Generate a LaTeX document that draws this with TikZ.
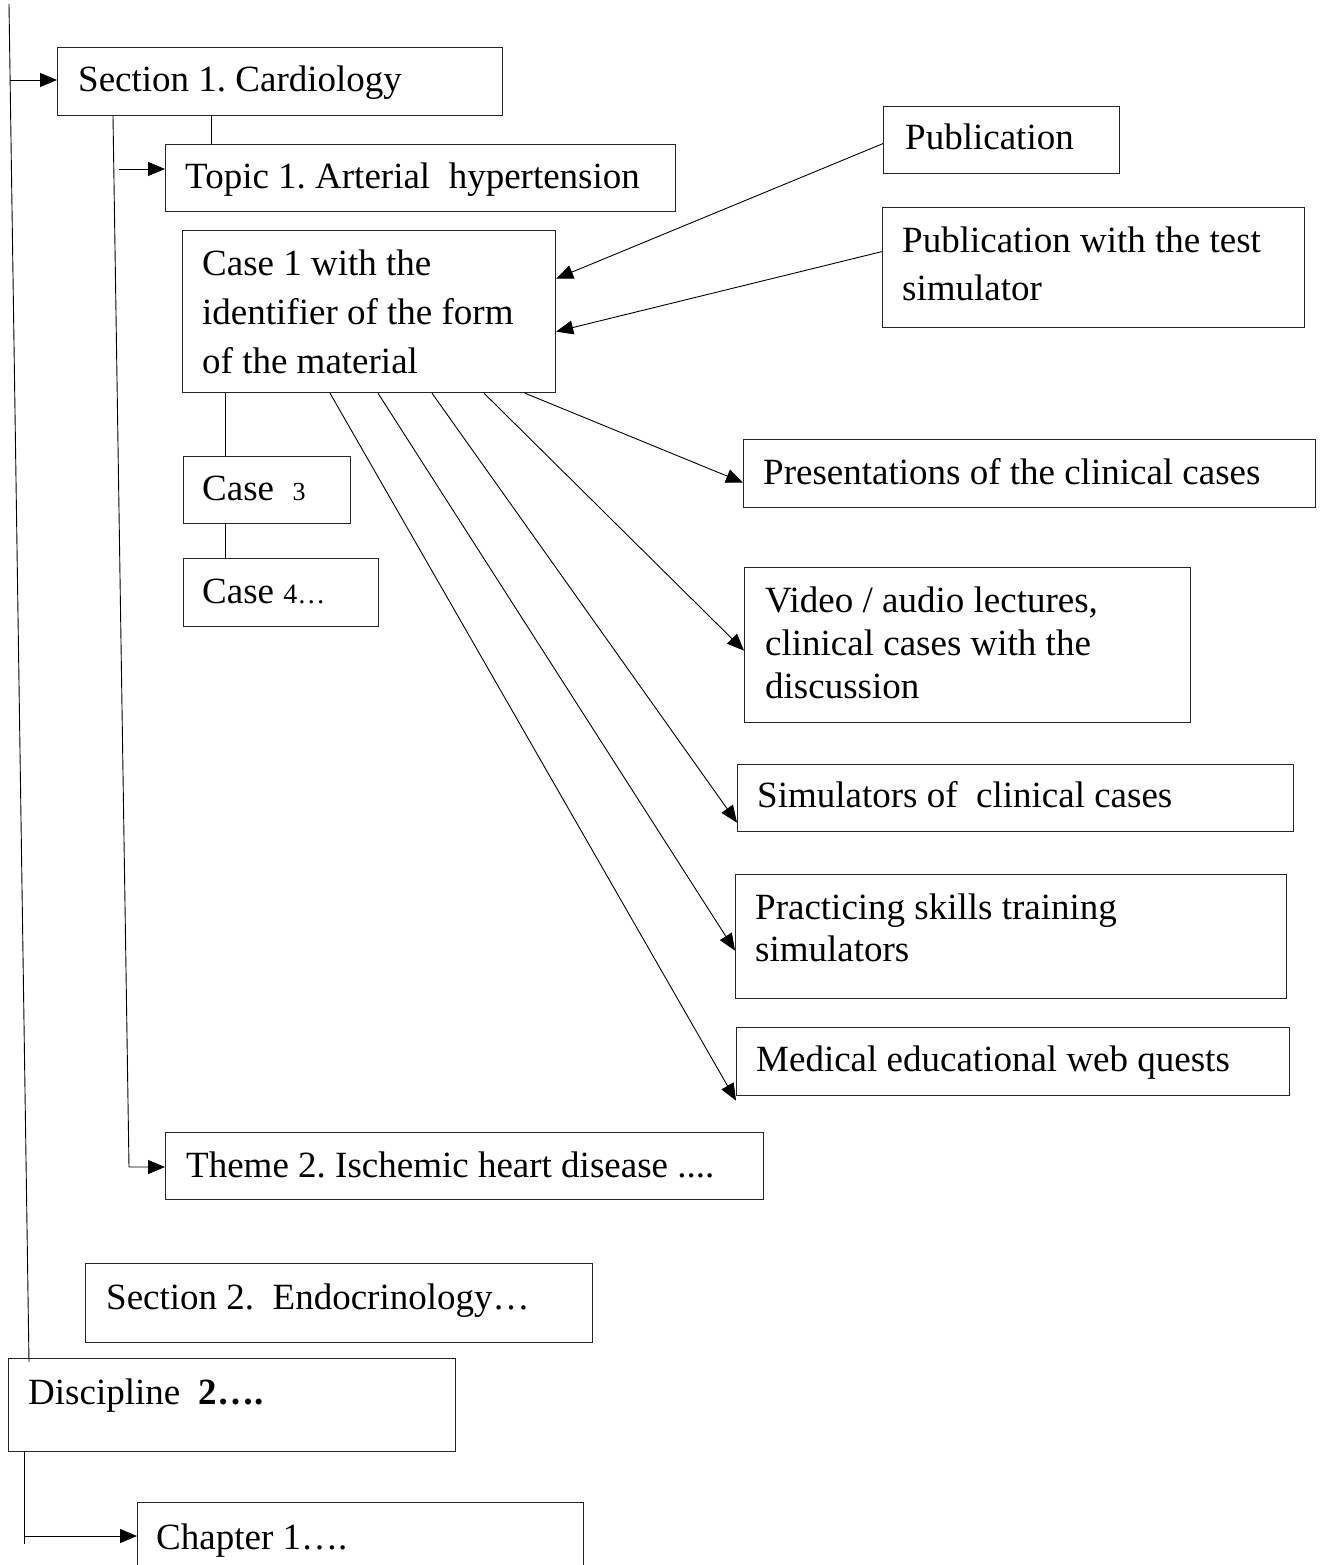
\documentclass[tikz,border=0pt]{standalone}
\usepackage{fontspec}
\setmainfont{Liberation Serif}
\usetikzlibrary{arrows.meta}
\begin{document}
\frenchspacing
\begin{tikzpicture}[x=1pt,y=-1pt,
  box/.style={draw=black!85, line width=1.2pt, rectangle, anchor=north west, inner sep=0pt},
  txt/.style={anchor=base west, inner sep=0pt, font=\fontsize{37}{44}\selectfont},
  conn/.style={line width=0.9pt},
  arr/.style={line width=0.9pt, -{Triangle[length=17pt,width=14pt]}}]
\useasboundingbox[fill=white] (0,0) rectangle (1321,1565);

% boxes
\node[box, minimum width=445pt, minimum height=68pt] (s1) at (57,47) {};
\node[box, minimum width=510pt, minimum height=67pt] (t1) at (165,144) {};
\node[box, minimum width=373pt, minimum height=162pt] (c1) at (182,230) {};
\node[box, minimum width=167pt, minimum height=67pt] (c3) at (183,456) {};
\node[box, minimum width=195pt, minimum height=68pt] (c4) at (183,558) {};
\node[box, minimum width=236pt, minimum height=67pt] (pub) at (883,106) {};
\node[box, minimum width=422pt, minimum height=120pt] (pubt) at (882,207) {};
\node[box, minimum width=572pt, minimum height=68pt] (pres) at (743,439) {};
\node[box, minimum width=446pt, minimum height=155pt] (vid) at (744,567) {};
\node[box, minimum width=556pt, minimum height=67pt] (sim) at (737,764) {};
\node[box, minimum width=551pt, minimum height=124pt] (prac) at (735,874) {};
\node[box, minimum width=553pt, minimum height=68pt] (med) at (736,1027) {};
\node[box, minimum width=598pt, minimum height=67pt] (th2) at (165,1132) {};
\node[box, minimum width=507pt, minimum height=79pt] (s2) at (85,1263) {};
\node[box, minimum width=447pt, minimum height=93pt] (disc) at (8,1358) {};
\node[box, minimum width=446pt, minimum height=120pt] (ch) at (137,1502) {};

% texts
\node[txt] (s1t) at (78,92) {Section 1. Cardiology};
\node[txt] (t1t) at (185,189) {Topic 1. Arterial~ hypertension};
\node[txt] (c1a) at (202,275) {Case 1 with the};
\node[txt] (c1b) at (202,324) {identifier of the form};
\node[txt] (c1c) at (202,373) {of the material};
\node[txt] (c3t) at (202,500) {Case~ {\fontsize{26}{30}\selectfont 3}};
\node[txt] (c4t) at (202,603) {Case {\fontsize{28}{32}\selectfont 4…}};
\node[txt] (pubx) at (905,150) {Publication};
\node[txt] (pta) at (902,252) {Publication with the test};
\node[txt] (ptb) at (902,300) {simulator};
\node[txt] (prest) at (763,484) {Presentations of the clinical cases};
\node[txt] (va) at (765,612) {Video / audio lectures,};
\node[txt] (vb) at (765,655) {clinical cases with the};
\node[txt] (vc) at (765,698) {discussion};
\node[txt] (simt) at (757,807) {Simulators of~ clinical cases};
\node[txt] (pa) at (755,919) {Practicing skills training};
\node[txt] (pb) at (755,961) {simulators};
\node[txt] (medt) at (756,1071) {Medical educational web quests};
\node[txt] (th2t) at (186,1177) {Theme 2. Ischemic heart disease ....};
\node[txt] (s2t) at (106,1309) {Section 2.~ Endocrinology…};
\node[txt] (disct) at (28,1404) {Discipline~ \textbf{2….}};
\node[txt] (cht) at (156,1549) {Chapter 1….};

% main spine
\coordinate (mtop) at (9,4);
\coordinate (mbot) at (29,1362);
\draw[conn] (mtop) -- (mbot);
\coordinate (sa) at (10.1,80);
\draw[arr] (sa) -- (sa -| s1.west);

% section 1 links
\draw[conn] ([xshift=154pt]s1.south west) -- ([xshift=154pt]s1.south west |- t1.north);
\coordinate (ta) at (119,169);
\draw[arr] (ta) -- (ta -| t1.west);
\coordinate (b2) at (129,1167);
\draw[arr] ([xshift=56pt]s1.south west) -- (b2) -- (b2 -| th2.west);

% case chain
\draw[conn] ([xshift=43pt]c1.south west) -- ([xshift=43pt]c1.south west |- c3.north);
\draw[conn] ([xshift=42pt]c3.south west) -- ([xshift=42pt]c3.south west |- c4.north);

% publications into case 1
\draw[arr] ([yshift=-3.5pt]pub.west) -- ([yshift=33pt]c1.east);
\draw[arr] ([yshift=16pt]pubt.west) -- ([yshift=-20pt]c1.east);

% case 1 to materials
\draw[arr] ([xshift=343pt]c1.south west) -- ([yshift=-9pt]pres.west);
\draw[arr] ([xshift=302pt]c1.south west) -- ([yshift=-5.5pt]vid.west);
\draw[arr] ([xshift=250pt]c1.south west) -- ([yshift=-24.5pt]sim.west);
\draw[arr] ([xshift=196pt]c1.south west) -- ([yshift=-14pt]prac.west);
\draw[arr] ([xshift=148pt]c1.south west) -- ([yshift=-39pt]med.west);

% discipline to chapter
\coordinate (dv) at (24,1544);
\draw[conn] ([xshift=16pt]disc.south west) -- (dv);
\coordinate (dh) at (24,1536);
\draw[arr] (dh) -- (dh -| ch.west);
\end{tikzpicture}
\end{document}
